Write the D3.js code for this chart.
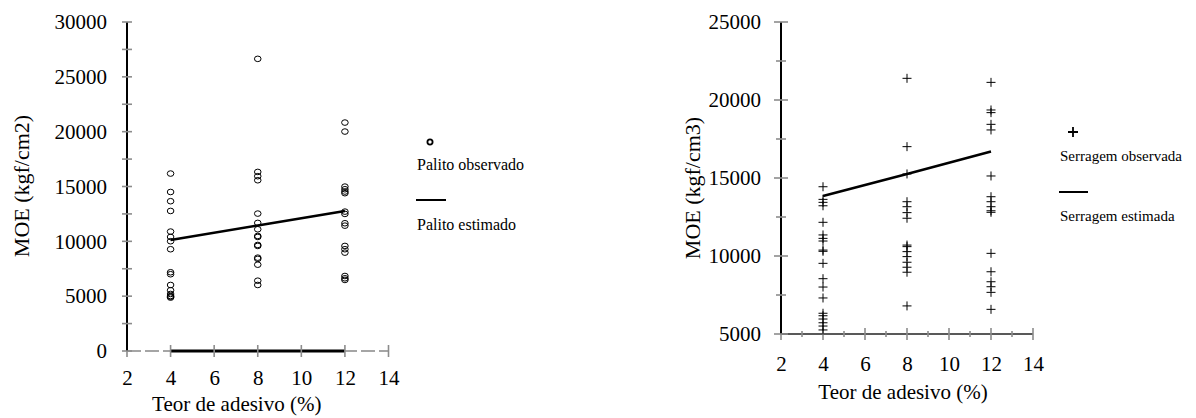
<!DOCTYPE html>
<html>
<head>
<meta charset="utf-8">
<script src="https://cdn.jsdelivr.net/npm/d3@7"></script>
<style>
  body { margin: 0; background: #fff; }
  svg { display: block; }
  text { font-family: "Liberation Serif", "Times New Roman", serif; fill: #000; }
</style>
</head>
<body>
<script>
// teor de adesivo (%) levels
var teor = [4, 8, 12];
var xTicks = [2, 4, 6, 8, 10, 12, 14];

// Palito (left chart), MOE kgf/cm2
var palito4 = [16180, 14500, 13660, 12770, 10890, 10400, 10010, 9280, 7180, 7000, 6020, 5540, 5200, 5020, 4950, 4870];
var palito8 = [26640, 16330, 15940, 15570, 12530, 11680, 11100, 10490, 10400, 9670, 9580, 8510, 8400, 7870, 6410, 6020];
var palito12 = [20830, 20010, 14990, 14750, 14540, 14390, 12710, 12500, 11650, 11430, 9580, 9280, 8970, 6840, 6630, 6480];
var palitoEst = [10130, 11450, 12770];
var palitoYTicks = [0, 5000, 10000, 15000, 20000, 25000, 30000];

// Serragem (right chart), MOE kgf/cm3
var serragem4 = [14440, 13630, 13440, 13220, 12160, 11350, 11130, 10960, 10380, 10300, 9530, 8545, 8010, 7310, 6330, 6170, 5960, 5720, 5510, 5260];
var serragem8 = [21390, 17010, 15260, 13480, 13160, 12780, 12420, 10700, 10600, 10280, 9960, 9600, 9280, 8960, 6800];
var serragem12 = [21130, 19360, 19190, 18440, 18080, 15130, 13800, 13480, 13160, 12900, 12800, 10170, 8990, 8350, 8030, 7670, 6580];
var serragemEst = [13850, 15260, 16700];
var serragemYTicks = [5000, 10000, 15000, 20000, 25000];

var W = 1196, H = 418;
var svg = d3.select("body").append("svg").attr("width", W).attr("height", H);

function points(levels, lists) {
    var pts = [];
    levels.forEach(function(t, i) {
        lists[i].forEach(function(v) { pts.push({x: t, y: v}); });
    });
    return pts;
}

function drawChart(opt) {
    var x = d3.scaleLinear().domain([2, 14]).range(opt.xr);
    var y = d3.scaleLinear().domain(opt.yd).range(opt.yr);
    var g = svg.append("g");
    var y0 = y(opt.yd[0]);
    var grey = "#8c8c8c";

    // x axis line
    g.append("line")
        .attr("x1", x(2)).attr("x2", x(14))
        .attr("y1", y0).attr("y2", y0)
        .attr("stroke", opt.xAxisColor).attr("stroke-width", opt.xAxisWidth)
        .attr("stroke-dasharray", opt.xDash || null);

    if (opt.zeroBar) {
        g.append("line")
            .attr("x1", x(teor[0])).attr("x2", x(teor[teor.length - 1]))
            .attr("y1", y0).attr("y2", y0)
            .attr("stroke", "#000").attr("stroke-width", 3);
    }

    // x ticks (crossing)
    var xt = d3.range(2, 15, opt.xMinor ? 1 : 2);
    g.selectAll(".xt").data(xt).enter().append("line")
        .attr("x1", function(d) { return x(d); }).attr("x2", function(d) { return x(d); })
        .attr("y1", function(d) { return y0 - (d % 2 == 0 ? 6 : 3); })
        .attr("y2", function(d) { return y0 + (d % 2 == 0 ? 6 : 3); })
        .attr("stroke", grey).attr("stroke-width", 1.6);

    // y axis line
    g.append("line")
        .attr("x1", x(2)).attr("x2", x(2))
        .attr("y1", y(opt.yd[1])).attr("y2", y0)
        .attr("stroke", "#000").attr("stroke-width", 2);

    // y ticks every 2500
    var yt = d3.range(opt.yd[0], opt.yd[1] + 1, 2500);
    g.selectAll(".yt").data(yt).enter().append("line")
        .attr("x1", function(d) { return x(2) - (d % 5000 == 0 ? opt.yMaj : opt.yMin); })
        .attr("x2", function(d) { return x(2) + (d % 5000 == 0 ? opt.yMaj : opt.yMin); })
        .attr("y1", function(d) { return y(d); }).attr("y2", function(d) { return y(d); })
        .attr("stroke", grey).attr("stroke-width", 1.6);

    // tick labels via axes (no tick lines)
    g.append("g")
        .attr("transform", "translate(" + x(2) + ",0)")
        .call(d3.axisLeft(y).tickValues(opt.yTicks).tickSize(0).tickPadding(20).tickFormat(d3.format("d")))
        .call(function(s) { s.select(".domain").remove(); })
        .selectAll("text").style("font-family", "Liberation Serif").style("font-size", "21px");

    g.append("g")
        .attr("transform", "translate(0," + y0 + ")")
        .call(d3.axisBottom(x).tickValues(xTicks).tickSize(0).tickPadding(opt.xPad).tickFormat(d3.format("d")))
        .call(function(s) { s.select(".domain").remove(); })
        .selectAll("text").style("font-family", "Liberation Serif").style("font-size", "21px");

    // axis titles
    g.append("text")
        .attr("transform", "translate(" + opt.yTitleX + "," + opt.yTitleY + ") rotate(-90)")
        .attr("text-anchor", "middle")
        .style("font-size", "22px")
        .text(opt.yTitle);
    g.append("text")
        .attr("x", (x(2) + x(14)) / 2 + opt.xTitleDx).attr("y", opt.xTitleY)
        .attr("text-anchor", "middle")
        .style("font-size", "21px")
        .text("Teor de adesivo (%)");

    // estimated line
    var line = d3.line().x(function(d, i) { return x(teor[i]); }).y(function(d) { return y(d); });
    g.append("path").datum(opt.est)
        .attr("d", line)
        .attr("fill", "none").attr("stroke", "#000").attr("stroke-width", 2.6);

    // observed points
    var pts = points(teor, opt.obs);
    if (opt.marker == "circle") {
        g.selectAll(".pt").data(pts).enter().append("ellipse")
            .attr("cx", function(d) { return x(d.x); })
            .attr("cy", function(d) { return y(d.y); })
            .attr("rx", 3.3).attr("ry", 2.8)
            .attr("fill", "none").attr("stroke", "#000").attr("stroke-width", 1);
    } else {
        g.selectAll(".pt").data(pts).enter().append("path")
            .attr("transform", function(d) { return "translate(" + x(d.x) + "," + y(d.y) + ")"; })
            .attr("d", "M-4.5,0H4.5M0,-4.5V4.5")
            .attr("fill", "none").attr("stroke", "#000").attr("stroke-width", 1);
    }

    // legend
    var L = opt.legend;
    if (opt.marker == "circle") {
        g.append("circle").attr("cx", L.mx).attr("cy", L.my).attr("r", 2.6)
            .attr("fill", "none").attr("stroke", "#000").attr("stroke-width", 1.8);
    } else {
        g.append("path").attr("transform", "translate(" + L.mx + "," + L.my + ")")
            .attr("d", "M-5,0H5M0,-5V5")
            .attr("stroke", "#000").attr("stroke-width", 1.8);
    }
    g.append("text").attr("x", L.tx).attr("y", L.t1y).style("font-size", L.fs).text(L.obsLabel);
    g.append("line").attr("x1", L.lx1).attr("x2", L.lx2).attr("y1", L.ly).attr("y2", L.ly)
        .attr("stroke", "#000").attr("stroke-width", 2);
    g.append("text").attr("x", L.tx).attr("y", L.t2y).style("font-size", L.fs).text(L.estLabel);
}

drawChart({
    xr: [127, 388.5], yd: [0, 30000], yr: [351, 22],
    yTicks: palitoYTicks,
    xAxisColor: "#888", xAxisWidth: 1.6, xDash: "14,4", zeroBar: true, xMinor: false,
    yMaj: 5, yMin: 5, xPad: 19,
    yTitle: "MOE (kgf/cm2)", yTitleX: 29, yTitleY: 186, xTitleY: 411, xTitleDx: -21,
    est: palitoEst, obs: [palito4, palito8, palito12], marker: "circle",
    legend: {mx: 430, my: 142, tx: 417, t1y: 170, t2y: 230, lx1: 416, lx2: 446, ly: 200, fs: "16px",
             obsLabel: "Palito observado", estLabel: "Palito estimado"}
});

drawChart({
    xr: [781, 1033], yd: [5000, 25000], yr: [334, 22],
    yTicks: serragemYTicks,
    xAxisColor: "#222", xAxisWidth: 1.6, xDash: null, zeroBar: false, xMinor: true,
    yMaj: 7, yMin: 5, xPad: 22,
    yTitle: "MOE (kgf/cm3)", yTitleX: 700, yTitleY: 188, xTitleY: 399, xTitleDx: -4,
    est: serragemEst, obs: [serragem4, serragem8, serragem12], marker: "plus",
    legend: {mx: 1073, my: 132, tx: 1060, t1y: 161, t2y: 221, lx1: 1059, lx2: 1088, ly: 192, fs: "15px",
             obsLabel: "Serragem observada", estLabel: "Serragem estimada"}
});
</script>
</body>
</html>
